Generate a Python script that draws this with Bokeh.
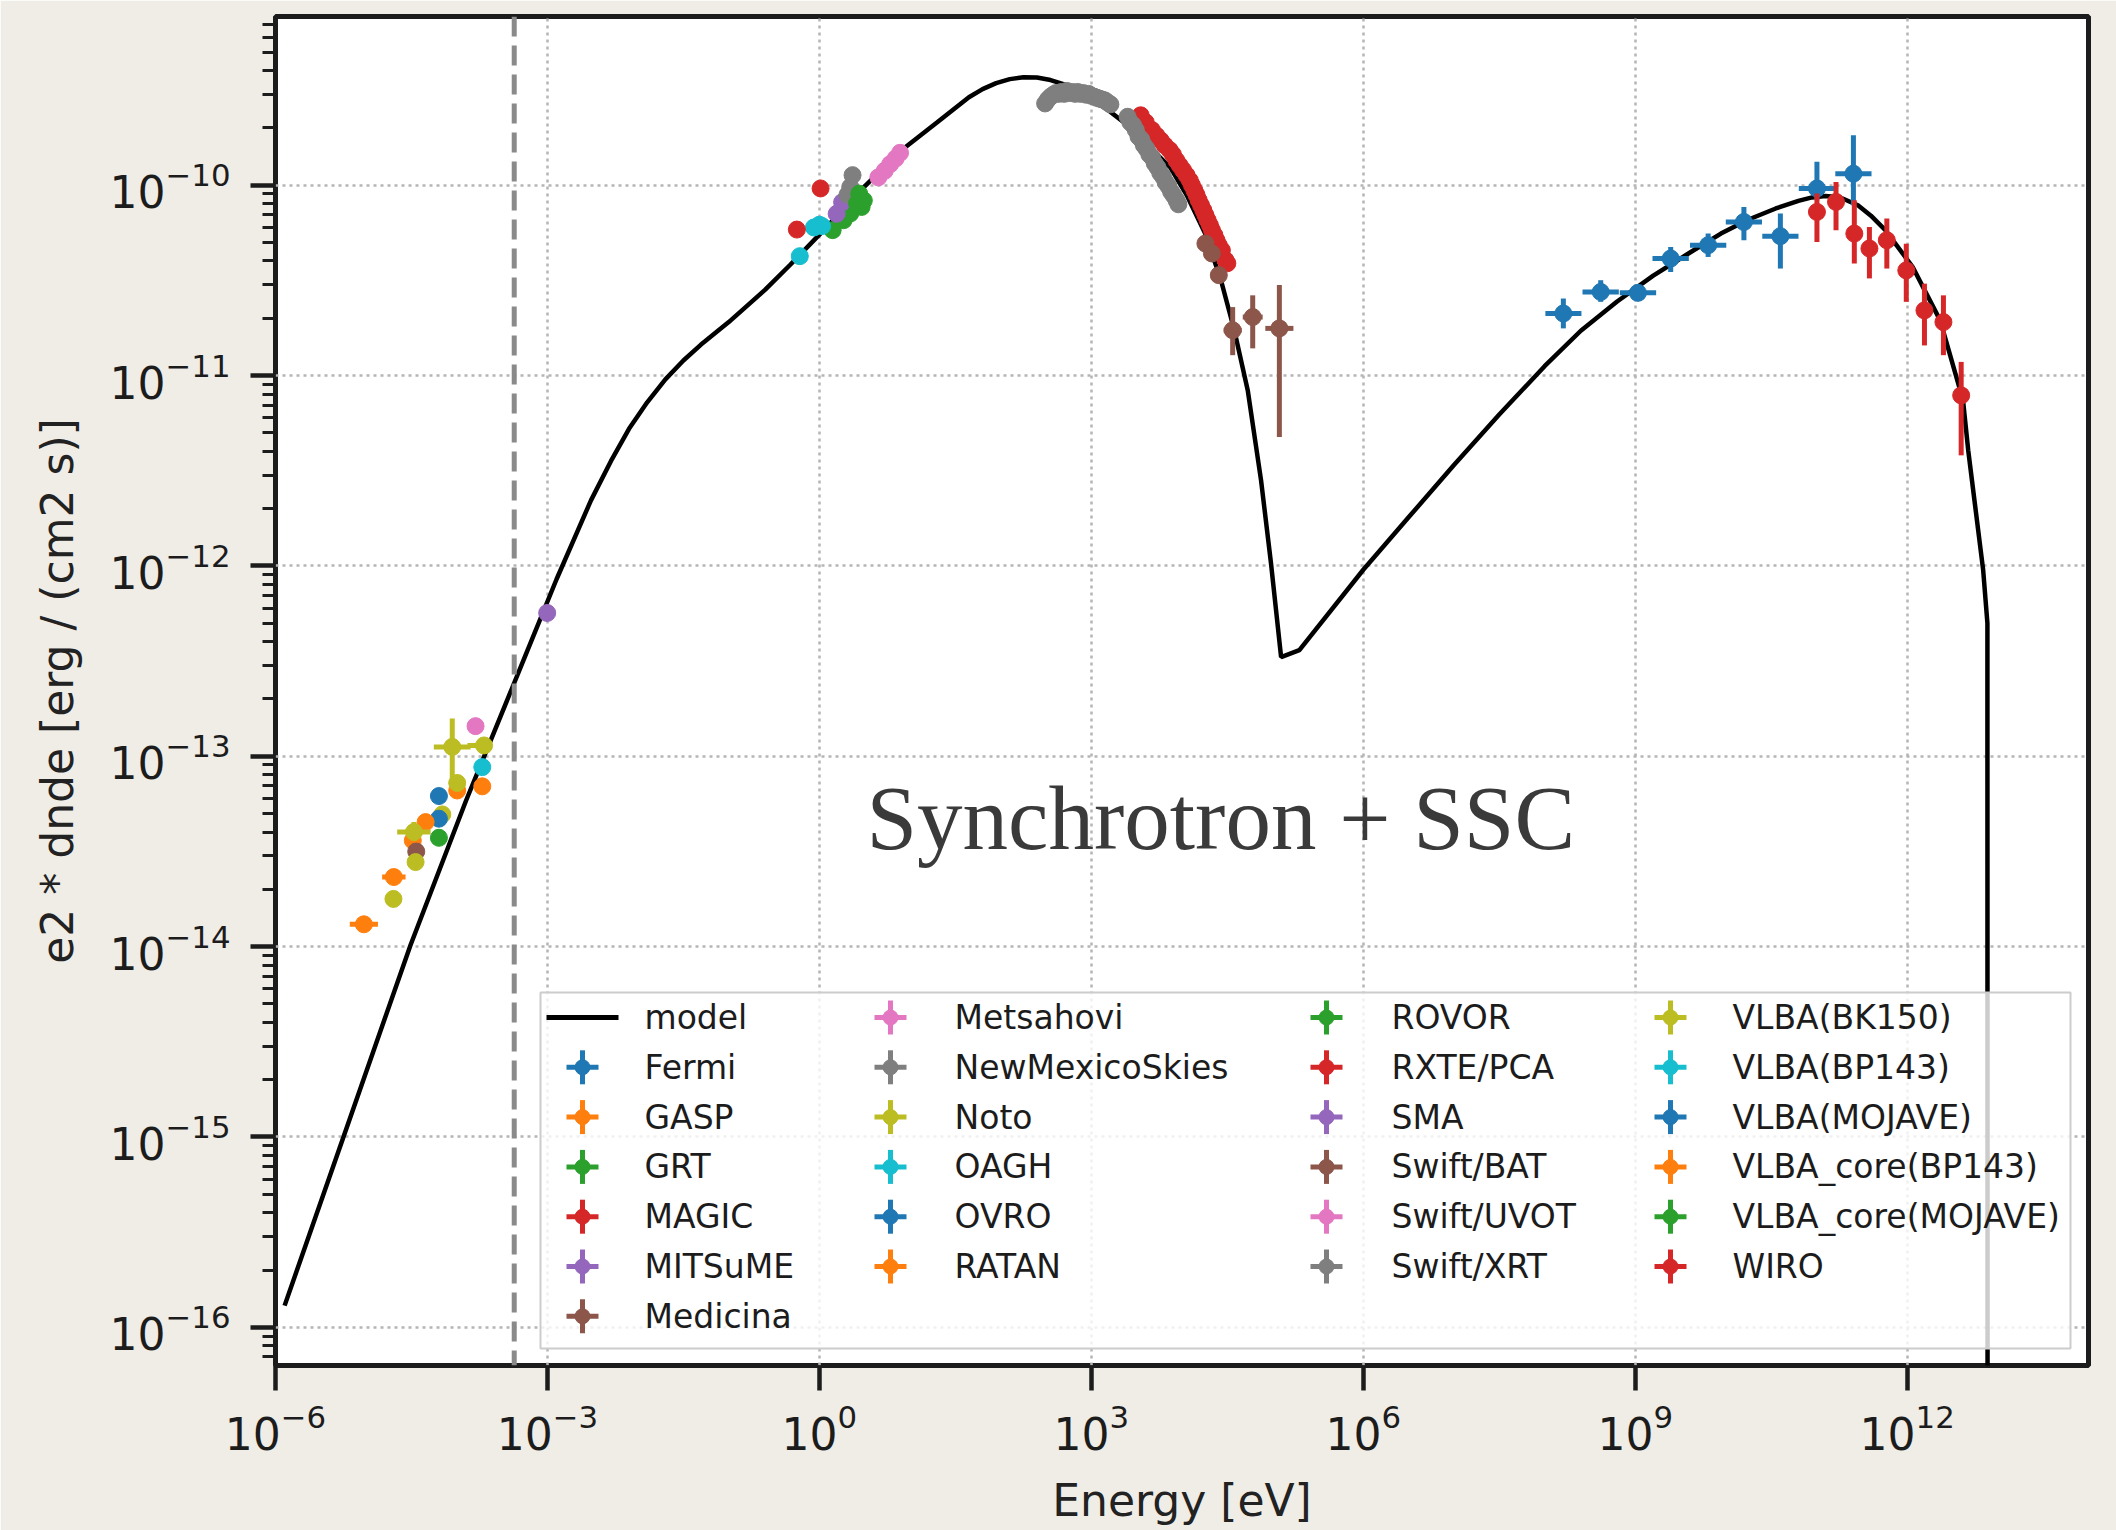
from bokeh.plotting import figure
from bokeh.models import Range1d, LinearScale, FixedTicker, Span
from bokeh.core.properties import value
from bokeh.embed import file_html
from bokeh.resources import INLINE

# ---------------------------------------------------------------- data
X_LIMITS = (1e-6, 1e14)
Y_LIMITS = (6.3e-17, 7.7e-10)
X_TICKS = [1e-6, 1e-3, 1e0, 1e3, 1e6, 1e9, 1e12]
Y_TICKS = [1e-16, 1e-15, 1e-14, 1e-13, 1e-12, 1e-11, 1e-10]
SSA_E = 4.3e-4          # dashed vertical line (eV)
ANNOTATION = "Synchrotron + SSC"

MODEL_E = [1.26e-6, 1.21e-5, 3.09e-5, 1.26e-4, 6.04e-4, 1.26e-3, 3.02e-3, 5.01e-3,
           7.94e-3, 1.26e-2, 2.0e-2, 3.16e-2, 4.91e-2, 0.1, 0.251, 0.471, 1.0, 2.94,
           8.11, 19.95, 44.6, 63.1, 89.1, 126, 178, 251, 355, 501, 708, 1069, 1585,
           2350, 3981, 7380, 11220, 17950, 26920, 37760, 53090, 74470, 95940, 123900,
           197200, 1.0e6, 3.16e6, 1.0e7, 3.16e7, 1.0e8, 2.51e8, 6.31e8, 1.58e9, 3.98e9,
           8.81e9, 1.78e10, 3.55e10, 6.31e10, 8.91e10, 1.26e11, 1.80e11, 2.86e11,
           3.98e11, 5.74e11, 1.15e12, 2.31e12, 4.13e12, 4.71e12, 5.52e12, 6.89e12,
           7.67e12, 7.76e12]
MODEL_F = [1.30e-16, 2.85e-15, 1.02e-14, 5.82e-14, 3.61e-13, 8.51e-13, 2.21e-12, 3.55e-12,
           5.25e-12, 7.24e-12, 9.55e-12, 1.20e-11, 1.45e-11, 1.91e-11, 2.82e-11, 3.80e-11,
           5.50e-11, 9.55e-11, 1.53e-10, 2.14e-10, 2.90e-10, 3.20e-10, 3.44e-10, 3.61e-10,
           3.69e-10, 3.68e-10, 3.57e-10, 3.39e-10, 3.14e-10, 2.80e-10, 2.45e-10, 2.12e-10,
           1.66e-10, 1.245e-10, 8.91e-11, 5.60e-11, 3.17e-11, 1.73e-11, 8.38e-12, 2.82e-12,
           1.03e-12, 3.32e-13, 3.61e-13, 9.55e-13, 1.80e-12, 3.39e-12, 6.24e-12, 1.12e-11,
           1.72e-11, 2.45e-11, 3.35e-11, 4.42e-11, 5.57e-11, 6.61e-11, 7.55e-11, 8.28e-11,
           8.63e-11, 8.79e-11, 8.65e-11, 7.85e-11, 6.92e-11, 5.81e-11, 3.72e-11, 1.95e-11,
           7.41e-12, 4.05e-12, 2.21e-12, 9.48e-13, 5.01e-13, 1e-25]

FERMI_E = [1.61e8, 4.16e8, 1.07e9, 2.46e9, 6.37e9, 1.58e10, 3.99e10, 1.01e11, 2.55e11]
FERMI_E_LO = [1.02e8, 2.62e8, 6.75e8, 1.55e9, 4.02e9, 9.97e9, 2.52e10, 6.37e10, 1.61e11]
FERMI_E_HI = [2.55e8, 6.59e8, 1.70e9, 3.90e9, 1.01e10, 2.50e10, 6.32e10, 1.60e11, 4.04e11]
FERMI_F = [2.12e-11, 2.75e-11, 2.72e-11, 4.12e-11, 4.84e-11, 6.41e-11, 5.40e-11, 9.62e-11, 1.15e-10]
FERMI_F_LO = [1.77e-11, 2.44e-11, 2.51e-11, 3.50e-11, 4.20e-11, 5.14e-11, 3.65e-11, 8.34e-11, 7.85e-11]
FERMI_F_HI = [2.54e-11, 3.17e-11, 2.95e-11, 4.74e-11, 5.57e-11, 7.69e-11, 7.10e-11, 1.33e-10, 1.83e-10]

MAGIC_E = [1.01e11, 1.64e11, 2.61e11, 3.83e11, 5.96e11, 9.77e11, 1.55e12, 2.51e12, 3.94e12]
MAGIC_F = [7.24e-11, 8.17e-11, 5.57e-11, 4.65e-11, 5.14e-11, 3.57e-11, 2.20e-11, 1.91e-11, 7.87e-12]
MAGIC_F_LO = [5.04e-11, 5.81e-11, 3.88e-11, 3.24e-11, 3.65e-11, 2.44e-11, 1.44e-11, 1.28e-11, 3.81e-12]
MAGIC_F_HI = [9.04e-11, 1.04e-10, 8.34e-11, 6.04e-11, 6.68e-11, 4.93e-11, 3.04e-11, 2.64e-11, 1.18e-11]

GASP_E = [3.27e-5, 1.01e-4]
GASP_F = [3.61e-14, 6.61e-14]
GRT_E = [1.40, 1.85, 2.19]
GRT_F = [5.81e-11, 6.55e-11, 7.10e-11]
MITSUME_E = [1.55, 1.78]
MITSUME_F = [7.08e-11, 8.13e-11]
MEDICINA_E = [3.57e-5]
MEDICINA_F = [3.16e-14]
METSAHOVI_E = [1.61e-4]
METSAHOVI_F = [1.44e-13]
NMS_E = [2.04, 2.19, 2.32]
NMS_F = [8.91e-11, 9.79e-11, 1.13e-10]
NOTO_E = [2.0e-5, 3.51e-5, 6.92e-5, 1.01e-4]
NOTO_F = [1.78e-14, 2.78e-14, 4.95e-14, 7.24e-14]
OAGH_E = [0.608, 0.87, 1.0, 1.07]
OAGH_F = [4.24e-11, 6.0e-11, 6.2e-11, 6.1e-11]
OVRO_E = [6.35e-5]
OVRO_F = [4.70e-14]
RATAN_E = [9.44e-6, 2.02e-5, 4.53e-5]
RATAN_E_LO = [6.6e-6, 1.50e-5, 4.53e-5]
RATAN_E_HI = [1.35e-5, 2.72e-5, 4.53e-5]
RATAN_F = [1.31e-14, 2.32e-14, 4.51e-14]
ROVOR_E = [2.60, 2.75, 2.92, 3.09]
ROVOR_F = [8.02e-11, 9.03e-11, 7.69e-11, 8.32e-11]
RXTE_E = [3500, 3981, 4656, 5248, 5834, 6457, 7311, 7943, 8670, 9441, 10280, 11220,
          12190, 12880, 13680, 14450, 15280, 16220, 17180, 18110, 19190, 20320, 21380,
          22750, 23990, 25470, 27540, 30200, 31620]
RXTE_F = [2.33e-10, 2.14e-10, 1.95e-10, 1.82e-10, 1.72e-10, 1.62e-10, 1.53e-10, 1.45e-10,
          1.35e-10, 1.27e-10, 1.20e-10, 1.13e-10, 1.06e-10, 1.00e-10, 9.42e-11, 8.91e-11,
          8.34e-11, 7.85e-11, 7.40e-11, 6.97e-11, 6.55e-11, 6.17e-11, 5.81e-11, 5.47e-11,
          5.14e-11, 4.84e-11, 4.55e-11, 4.04e-11, 3.89e-11]
SMA_E = [9.93e-4]
SMA_F = [5.66e-13]
BAT_E = [18110, 21380, 25470, 36220, 60260, 118600]
BAT_E_LO = [18110, 21380, 25470, 28770, 46800, 83000]
BAT_E_HI = [18110, 21380, 25470, 45600, 77600, 169500]
BAT_F = [4.94e-11, 4.38e-11, 3.37e-11, 1.73e-11, 2.03e-11, 1.77e-11]
BAT_F_LO = [4.94e-11, 4.38e-11, 3.37e-11, 1.28e-11, 1.39e-11, 4.75e-12]
BAT_F_HI = [4.94e-11, 4.38e-11, 3.37e-11, 2.29e-11, 2.64e-11, 2.99e-11]
UVOT_E = [4.47, 5.25, 6.03, 6.92, 7.76]
UVOT_F = [1.10e-10, 1.19e-10, 1.29e-10, 1.38e-10, 1.48e-10]
XRT_E = [309, 331, 355, 380, 407, 437, 468, 501, 537, 575, 617, 661, 708, 759, 813,
         871, 933, 1000, 1072, 1148, 1230, 1318, 1413, 1514, 1622,
         2512, 2692, 2884, 3090, 3311, 3548, 3802, 4074, 4365, 4677, 5012, 5370,
         5754, 6166, 6607, 7079, 7586, 8128, 8710, 9120]
XRT_F = [2.69e-10, 2.82e-10, 2.92e-10, 2.99e-10, 3.05e-10, 3.02e-10, 3.09e-10, 3.02e-10,
         3.13e-10, 3.05e-10, 3.09e-10, 3.02e-10, 3.09e-10, 3.02e-10, 3.05e-10, 2.99e-10,
         3.02e-10, 2.95e-10, 2.92e-10, 2.88e-10, 2.85e-10, 2.82e-10, 2.79e-10, 2.72e-10,
         2.66e-10,
         2.29e-10, 2.14e-10, 2.07e-10, 1.95e-10, 1.80e-10, 1.74e-10, 1.62e-10, 1.55e-10,
         1.45e-10, 1.40e-10, 1.30e-10, 1.24e-10, 1.16e-10, 1.11e-10, 1.035e-10, 9.89e-11,
         9.23e-11, 8.81e-11, 8.32e-11, 7.94e-11]
BK150_E = [3.37e-5, 8.91e-5, 2.0e-4]
BK150_E_LO = [2.2e-5, 5.58e-5, 1.31e-4]
BK150_E_HI = [5.14e-5, 1.42e-4, 2.36e-4]
BK150_F = [4.0e-14, 1.12e-13, 1.14e-13]
BK150_F_LO = [3.61e-14, 7.18e-14, 1.14e-13]
BK150_F_HI = [4.51e-14, 1.58e-13, 1.14e-13]
BP143_E = [1.91e-4]
BP143_F = [8.77e-14]
MOJAVE_E = [6.35e-5]
MOJAVE_F = [6.18e-14]
CORE_BP143_E = [1.91e-4]
CORE_BP143_F = [6.95e-14]
CORE_MOJAVE_E = [6.35e-5]
CORE_MOJAVE_F = [3.73e-14]
WIRO_E = [0.564, 1.03]
WIRO_F = [5.85e-11, 9.62e-11]

TAB10 = ["#1f77b4", "#ff7f0e", "#2ca02c", "#d62728", "#9467bd",
         "#8c564b", "#e377c2", "#7f7f7f", "#bcbd22", "#17becf"]

SERIES = [
    ("Fermi", dict(e=FERMI_E, f=FERMI_F, e_lo=FERMI_E_LO, e_hi=FERMI_E_HI, f_lo=FERMI_F_LO, f_hi=FERMI_F_HI)),
    ("GASP", dict(e=GASP_E, f=GASP_F)),
    ("GRT", dict(e=GRT_E, f=GRT_F)),
    ("MAGIC", dict(e=MAGIC_E, f=MAGIC_F, f_lo=MAGIC_F_LO, f_hi=MAGIC_F_HI)),
    ("MITSuME", dict(e=MITSUME_E, f=MITSUME_F)),
    ("Medicina", dict(e=MEDICINA_E, f=MEDICINA_F)),
    ("Metsahovi", dict(e=METSAHOVI_E, f=METSAHOVI_F)),
    ("NewMexicoSkies", dict(e=NMS_E, f=NMS_F)),
    ("Noto", dict(e=NOTO_E, f=NOTO_F)),
    ("OAGH", dict(e=OAGH_E, f=OAGH_F)),
    ("OVRO", dict(e=OVRO_E, f=OVRO_F)),
    ("RATAN", dict(e=RATAN_E, f=RATAN_F, e_lo=RATAN_E_LO, e_hi=RATAN_E_HI)),
    ("ROVOR", dict(e=ROVOR_E, f=ROVOR_F)),
    ("RXTE/PCA", dict(e=RXTE_E, f=RXTE_F)),
    ("SMA", dict(e=SMA_E, f=SMA_F)),
    ("Swift/BAT", dict(e=BAT_E, f=BAT_F, e_lo=BAT_E_LO, e_hi=BAT_E_HI, f_lo=BAT_F_LO, f_hi=BAT_F_HI)),
    ("Swift/UVOT", dict(e=UVOT_E, f=UVOT_F)),
    ("Swift/XRT", dict(e=XRT_E, f=XRT_F)),
    ("VLBA(BK150)", dict(e=BK150_E, f=BK150_F, e_lo=BK150_E_LO, e_hi=BK150_E_HI, f_lo=BK150_F_LO, f_hi=BK150_F_HI)),
    ("VLBA(BP143)", dict(e=BP143_E, f=BP143_F)),
    ("VLBA(MOJAVE)", dict(e=MOJAVE_E, f=MOJAVE_F)),
    ("VLBA_core(BP143)", dict(e=CORE_BP143_E, f=CORE_BP143_F)),
    ("VLBA_core(MOJAVE)", dict(e=CORE_MOJAVE_E, f=CORE_MOJAVE_F)),
    ("WIRO", dict(e=WIRO_E, f=WIRO_F)),
]

# ---------------------------------------------------------------- layout / style
W, H = 2116, 1530
FL, FR, FT, FB = 275, 2088, 16, 1365
FW, FH = FR - FL, FB - FT
BG = "#f0ede7"
INK = "#1c1c1c"
FONT = "DejaVu Sans"
ERR_W = 5
MARKER = 17

p = figure(width=W, height=H, x_axis_type="log", y_axis_type="log",
           x_range=Range1d(*X_LIMITS), y_range=Range1d(*Y_LIMITS),
           output_backend="svg", toolbar_location=None, title=None,
           min_border_left=FL, min_border_right=W - FR,
           min_border_top=FT, min_border_bottom=H - FB)
p.background_fill_color = "white"
p.border_fill_color = BG
p.outline_line_color = INK
p.outline_line_width = 5

# pixel overlay coordinate system (frame-relative, y up)
p.extra_x_ranges = {"px": Range1d(0, FW)}
p.extra_y_ranges = {"px": Range1d(0, FH)}
p.extra_x_scales = {"px": LinearScale()}
p.extra_y_scales = {"px": LinearScale()}

minor_y = [m * 10.0 ** k for k in range(-17, -9) for m in range(2, 10)]
p.xaxis.ticker = FixedTicker(ticks=X_TICKS, minor_ticks=[])
p.yaxis.ticker = FixedTicker(ticks=Y_TICKS, minor_ticks=minor_y)

for ax in (p.xaxis, p.yaxis):
    ax.axis_line_color = None
    ax.major_tick_line_color = INK
    ax.major_tick_line_width = 4.5
    ax.major_tick_out = 25
    ax.major_tick_in = 0
    ax.minor_tick_line_color = INK
    ax.minor_tick_line_width = 3
    ax.minor_tick_out = 13
    ax.minor_tick_in = 0
    ax.major_label_text_font = FONT
    ax.major_label_text_font_size = "44px"
    ax.major_label_text_color = INK
    ax.axis_label_text_font = FONT
    ax.axis_label_text_font_size = "44px"
    ax.axis_label_text_font_style = "normal"
    ax.axis_label_text_color = "#222222"

p.xaxis.axis_label = "Energy [eV]"
p.yaxis.axis_label = "e2 * dnde [erg / (cm2 s)]"
p.xaxis.major_label_standoff = 13
p.yaxis.major_label_standoff = 20
p.xaxis.axis_label_standoff = 22
p.yaxis.axis_label_standoff = 24

for g in (p.xgrid, p.ygrid):
    g.grid_line_color = "#b5b5b5"
    g.grid_line_width = 2.5
    g.grid_line_dash = "3 4"
p.xgrid.ticker = FixedTicker(ticks=X_TICKS)
p.ygrid.ticker = FixedTicker(ticks=Y_TICKS)

p.add_layout(Span(location=SSA_E, dimension="height", line_color="#8a8a8a",
                  line_width=5, line_dash="20 9"))

# model
p.line(MODEL_E, MODEL_F, line_color="black", line_width=4.5)

# data
for i, (name, d) in enumerate(SERIES):
    c = TAB10[i % 10]
    if "e_lo" in d:
        p.segment(x0=d["e_lo"], y0=d["f"], x1=d["e_hi"], y1=d["f"], line_color=c, line_width=ERR_W)
    if "f_lo" in d:
        p.segment(x0=d["e"], y0=d["f_lo"], x1=d["e"], y1=d["f_hi"], line_color=c, line_width=ERR_W)
    p.scatter(d["e"], d["f"], size=MARKER, fill_color=c, line_color=c)

# ---------------------------------------------------------------- legend (hand-built)
LEG_L, LEG_R, LEG_B, LEG_T = 265, 1795, 17, 373
ICON_X = [307, 615, 1051, 1395]
TEXT_X = [369, 679, 1116, 1457]
ROW0, ROW_STEP = 348, 49.8

p.quad(left=[LEG_L], right=[LEG_R], bottom=[LEG_B], top=[LEG_T],
       fill_color="white", fill_alpha=0.8, line_color="#cccccc", line_width=2,
       x_range_name="px", y_range_name="px")

entries = [("model", "black")] + [(n, TAB10[i % 10]) for i, (n, _) in enumerate(SERIES)]
n_items, n_cols = len(entries), 4
n_rows = -(-n_items // n_cols)
extra = n_items % n_cols
col_sizes = [n_rows if (extra == 0 or c < extra) else n_rows - 1 for c in range(n_cols)]

tx, ty, tt = [], [], []
k = 0
for c, size in enumerate(col_sizes):
    for r in range(size):
        name, color = entries[k]
        cy = ROW0 - ROW_STEP * r
        cx = ICON_X[c]
        if name == "model":
            p.line([cx - 36, cx + 36], [cy, cy], line_color="black", line_width=5,
                   x_range_name="px", y_range_name="px")
        else:
            p.segment(x0=[cx, cx - 16], y0=[cy - 17, cy], x1=[cx, cx + 16], y1=[cy + 17, cy],
                      line_color=color, line_width=5, x_range_name="px", y_range_name="px")
            p.scatter([cx], [cy], size=15, fill_color=color, line_color=color,
                      x_range_name="px", y_range_name="px")
        tx.append(TEXT_X[c]); ty.append(cy); tt.append(name)
        k += 1

p.text(x=tx, y=ty, text=tt, text_font=value(FONT), text_font_size="33px",
       text_color="#1c1c1c", text_baseline="alphabetic", text_align="left",
       x_range_name="px", y_range_name="px")

p.text(x=[591], y=[547], text=[ANNOTATION], text_font=value("Liberation Serif"),
       text_font_size="91px", text_color="#3a3a3a", text_baseline="alphabetic",
       text_align="left", x_range_name="px", y_range_name="px")

open("out.html", "w").write(file_html(p, INLINE))
